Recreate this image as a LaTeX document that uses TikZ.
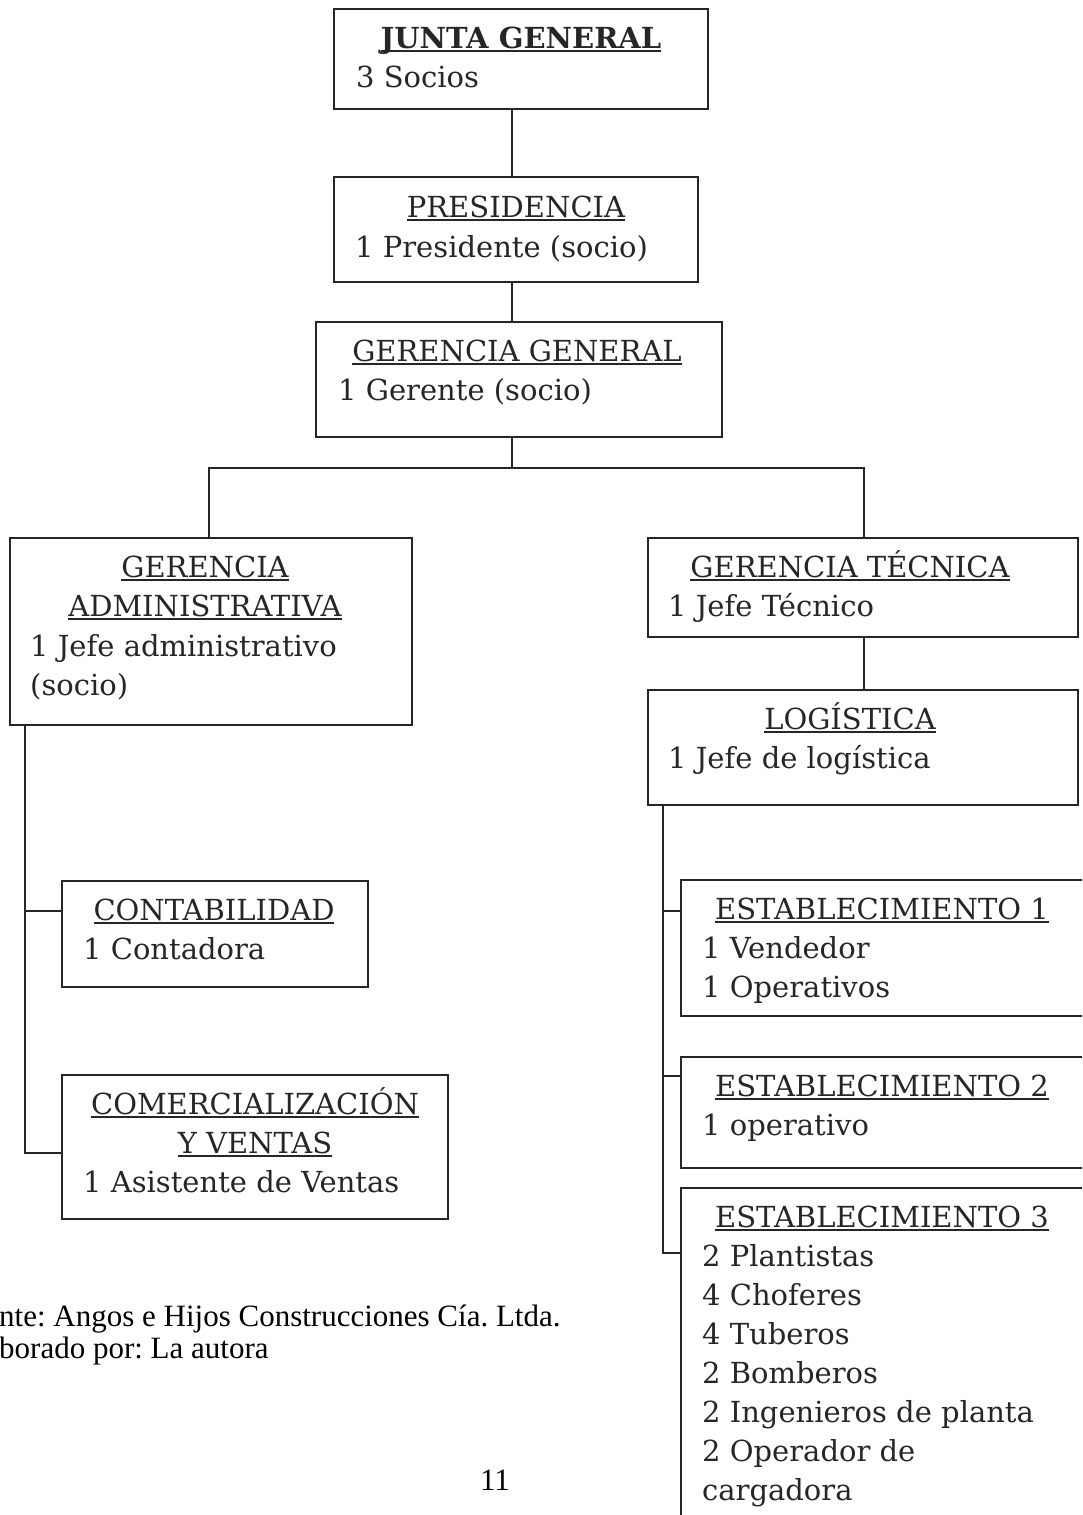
\documentclass[tikz,border=0pt]{standalone}
\usepackage{fontspec}
\setmainfont{DejaVu Serif}
\newfontfamily\footfont{Liberation Serif}
\frenchspacing
% underlined heading with a heavy rule just under the baseline
\newcommand\ttl[1]{\setbox0\hbox{#1}\rlap{\rule[-3.5pt]{\wd0}{1.8pt}}\box0}
\begin{document}
\begin{tikzpicture}[x=1pt,y=-1pt,
  box/.style={draw=black!85, line width=1.3pt, rectangle, inner sep=0pt, outer sep=0pt, anchor=north west},
  link/.style={draw=black!85, line width=1.3pt},
  head/.style={anchor=base, inner sep=0pt, text=black!85, font=\fontsize{29}{39}\selectfont},
  txt/.style={anchor=base west, inner sep=0pt, text=black!85, font=\fontsize{29}{39}\selectfont},
  foot/.style={anchor=base west, inner sep=0pt, font=\footfont\fontsize{31}{34}\selectfont}]
\useasboundingbox (0,0) rectangle (1082,1515);
\clip (0,0) rectangle (1082,1515);

% ---------- boxes ----------
\node[box, minimum width=374pt, minimum height=100pt] (jg)   at (334,9)   {};
\node[box, minimum width=364pt, minimum height=105pt] (pres) at (334,177) {};
\node[box, minimum width=406pt, minimum height=115pt] (gg)   at (316,322) {};
\node[box, minimum width=402pt, minimum height=187pt] (ga)   at (10,538)  {};
\node[box, minimum width=306pt, minimum height=106pt] (cont) at (62,881)  {};
\node[box, minimum width=386pt, minimum height=144pt] (com)  at (62,1075) {};
\node[box, minimum width=430pt, minimum height=99pt]  (gt)   at (648,538) {};
\node[box, minimum width=430pt, minimum height=115pt] (log)  at (648,690) {};
\node[box, minimum width=420pt, minimum height=136pt] (e1)   at (681,880) {};
\node[box, minimum width=420pt, minimum height=111pt] (e2)   at (681,1057) {};
\node[box, minimum width=420pt, minimum height=360pt] (e3)   at (681,1188) {};

% ---------- texts ----------
\node[head] (jgh) at (521,48) {\ttl{\bfseries JUNTA GENERAL}};
\node[txt]  (jg1) at (356,87) {3 Socios};

\node[head] (presh) at (516,217) {\ttl{PRESIDENCIA}};
\node[txt]  (pres1) at (355,257) {1 Presidente (socio)};

\node[head] (ggh) at (517,361) {\ttl{GERENCIA GENERAL}};
\node[txt]  (gg1) at (338,400) {1 Gerente (socio)};

\node[head] (gah1) at (205,577) {\ttl{GERENCIA}};
\node[head] (gah2) at (205,616) {\ttl{ADMINISTRATIVA}};
\node[txt]  (ga1) at (30,656) {1 Jefe administrativo};
\node[txt]  (ga2) at (30,695) {(socio)};

\node[head] (conth) at (214,920) {\ttl{CONTABILIDAD}};
\node[txt]  (cont1) at (83,959) {1 Contadora};

\node[head] (comh1) at (255,1114) {\ttl{COMERCIALIZACIÓN}};
\node[head] (comh2) at (255,1153) {\ttl{Y VENTAS}};
\node[txt]  (com1) at (83,1192) {1 Asistente de Ventas};

\node[head] (gth) at (850,577) {\ttl{GERENCIA TÉCNICA}};
\node[txt]  (gt1) at (668,616) {1 Jefe Técnico};

\node[head] (logh) at (850,729) {\ttl{LOGÍSTICA}};
\node[txt]  (log1) at (668,768) {1 Jefe de logística};

\node[head] (e1h) at (882,919) {\ttl{ESTABLECIMIENTO 1}};
\node[txt]  (e1a) at (702,958) {1 Vendedor};
\node[txt]  (e1b) at (702,997) {1 Operativos};

\node[head] (e2h) at (882,1096) {\ttl{ESTABLECIMIENTO 2}};
\node[txt]  (e2a) at (702,1135) {1 operativo};

\node[head] (e3h) at (882,1227) {\ttl{ESTABLECIMIENTO 3}};
\node[txt]  (e3a) at (702,1266) {2 Plantistas};
\node[txt]  (e3b) at (702,1305) {4 Choferes};
\node[txt]  (e3c) at (702,1344) {4 Tuberos};
\node[txt]  (e3d) at (702,1383) {2 Bomberos};
\node[txt]  (e3e) at (702,1422) {2 Ingenieros de planta};
\node[txt]  (e3f) at (702,1461) {2 Operador de};
\node[txt]  (e3g) at (702,1500) {cargadora};

% ---------- connectors ----------
\coordinate (mid) at (512,0);
\coordinate (split) at (512,468);
\coordinate (lft) at (209,468);
\coordinate (rgt) at (864,468);
\draw[link] (mid |- jg.south) -- (mid |- pres.north);
\draw[link] (mid |- pres.south) -- (mid |- gg.north);
\draw[link] (mid |- gg.south) -- (split);
\draw[link] (ga.north -| lft) -- (lft) -- (rgt) -- (gt.north -| rgt);
\draw[link] (gt.south -| rgt) -- (log.north -| rgt);

% left branch bus
\coordinate (lb1) at (25,911);
\coordinate (lb2) at (25,1153);
\draw[link] (ga.south -| lb1) -- (lb2) -- (com.west |- lb2);
\draw[link] (lb1) -- (cont.west |- lb1);

% right branch bus
\coordinate (rb1) at (663,911);
\coordinate (rb2) at (663,1076);
\coordinate (rb3) at (663,1253);
\draw[link] (log.south -| rb1) -- (rb3) -- (e3.west |- rb3);
\draw[link] (rb1) -- (e1.west |- rb1);
\draw[link] (rb2) -- (e2.west |- rb2);

% ---------- footer ----------
\node[foot] (src) at (-1,1326) {nte: Angos e Hijos Construcciones Cía. Ltda.};
\node[foot] (aut) at (-1,1358) {borado por: La autora};
\node[foot, anchor=base] (pg) at (495,1490) {11};
\end{tikzpicture}
\end{document}
